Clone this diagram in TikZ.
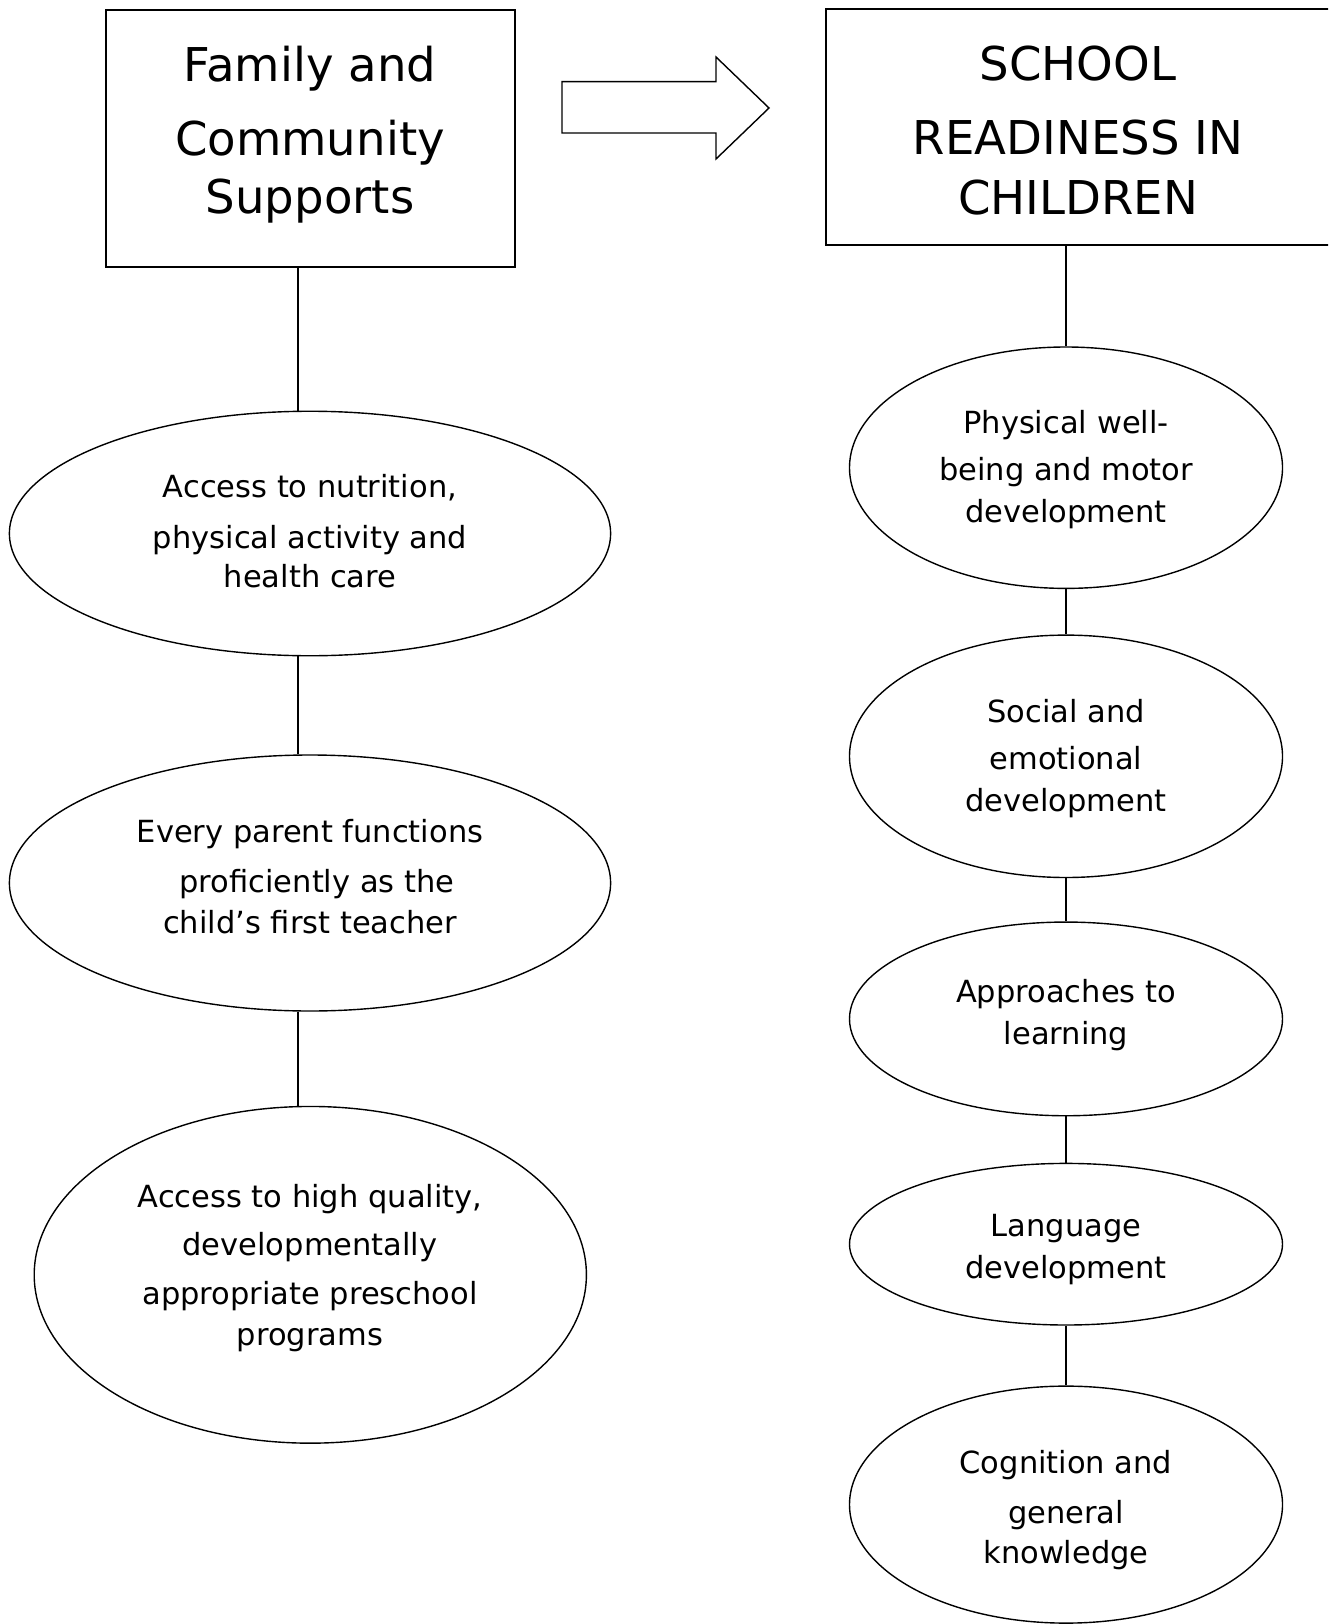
\documentclass[tikz,border=0pt]{standalone}
\usepackage{fontspec}
\setmainfont{DejaVu Sans}
\usetikzlibrary{shapes.geometric}
\begin{document}
\begin{tikzpicture}[x=1pt,y=-1pt,
  line width=1.4pt,
  box/.style={draw, rectangle, inner sep=0},
  oval/.style={draw, ellipse, inner sep=0},
  big/.style={font=\fontsize{46.6}{58}\selectfont, align=center, inner sep=0},
  small/.style={font=\fontsize{30.5}{39}\selectfont, align=center, inner sep=0},
  conn/.style={draw, line width=1.4pt}
]
\clip (0,0) rectangle (1328,1624);
% boxes
\node[box, minimum width=409, minimum height=257] (fam) at (310.5,138.5) {};
\node[big] (famt) at (310,134.8) {Family and\\[16pt]Community\\Supports};
\node[box, minimum width=504, minimum height=236] (sr) at (1078,127) {};
\node[big] (srt) at (1078,131) {SCHOOL\\[16pt]READINESS IN\\[2pt]CHILDREN};
% block arrow
\draw[line join=miter] (562,81.7) -- (716,81.7) -- (716,57) -- (769,108) -- (716,159) -- (716,133) -- (562,133) -- cycle;
% left ellipses
\node[oval, minimum width=601.2, minimum height=244.5] (a1) at (310,533.5) {};
\node[small] (a1t) at (310,531) {Access to nutrition,\\[11.3pt]physical activity and\\health care};
\node[oval, minimum width=601.2, minimum height=256] (a2) at (310,883) {};
\node[small] (a2t) at (310,876.5) {Every parent functions\\[10.3pt]\hspace*{14pt}proficiently as the\\[2pt]child’s first teacher};
\node[oval, minimum width=552.2, minimum height=336.7] (a3) at (310.3,1274.8) {};
\node[small] (a3t) at (310,1268.3) {Access to high quality,\\[8.3pt]developmentally\\[10.3pt]appropriate preschool\\[2pt]programs};
% right ellipses
\node[oval, minimum width=433, minimum height=241.4] (b1) at (1066,467.7) {};
\node[small] (b1t) at (1066,469.5) {Physical well-\\[8.7pt]being and motor\\[3pt]development};
\node[oval, minimum width=433, minimum height=242.4] (b2) at (1066,756.3) {};
\node[small] (b2t) at (1066,758.5) {Social and\\[8.5pt]emotional\\[3pt]development};
\node[oval, minimum width=433, minimum height=193.7] (b3) at (1066,1018.9) {};
\node[small] (b3t) at (1066,1015) {Approaches to\\[3pt]learning};
\node[oval, minimum width=433, minimum height=161.6] (b4) at (1066,1244.2) {};
\node[small] (b4t) at (1066,1249.5) {Language\\[3pt]development};
\node[oval, minimum width=433, minimum height=237] (b5) at (1066,1504.6) {};
\node[small] (b5t) at (1066,1510) {Cognition and\\[11pt]general\\[1pt]knowledge};
% connectors
\coordinate (lx) at (298,0);
\coordinate (rx) at (1066,0);
\draw[conn] (fam.south -| lx) -- (a1.north -| lx);
\draw[conn] (a1.south -| lx) -- (a2.north -| lx);
\draw[conn] (a2.south -| lx) -- (a3.north -| lx);
\draw[conn] (sr.south -| rx) -- (b1.north);
\draw[conn] (b1.south) -- (b2.north);
\draw[conn] (b2.south) -- (b3.north);
\draw[conn] (b3.south) -- (b4.north);
\draw[conn] (b4.south) -- (b5.north);
\end{tikzpicture}
\end{document}
